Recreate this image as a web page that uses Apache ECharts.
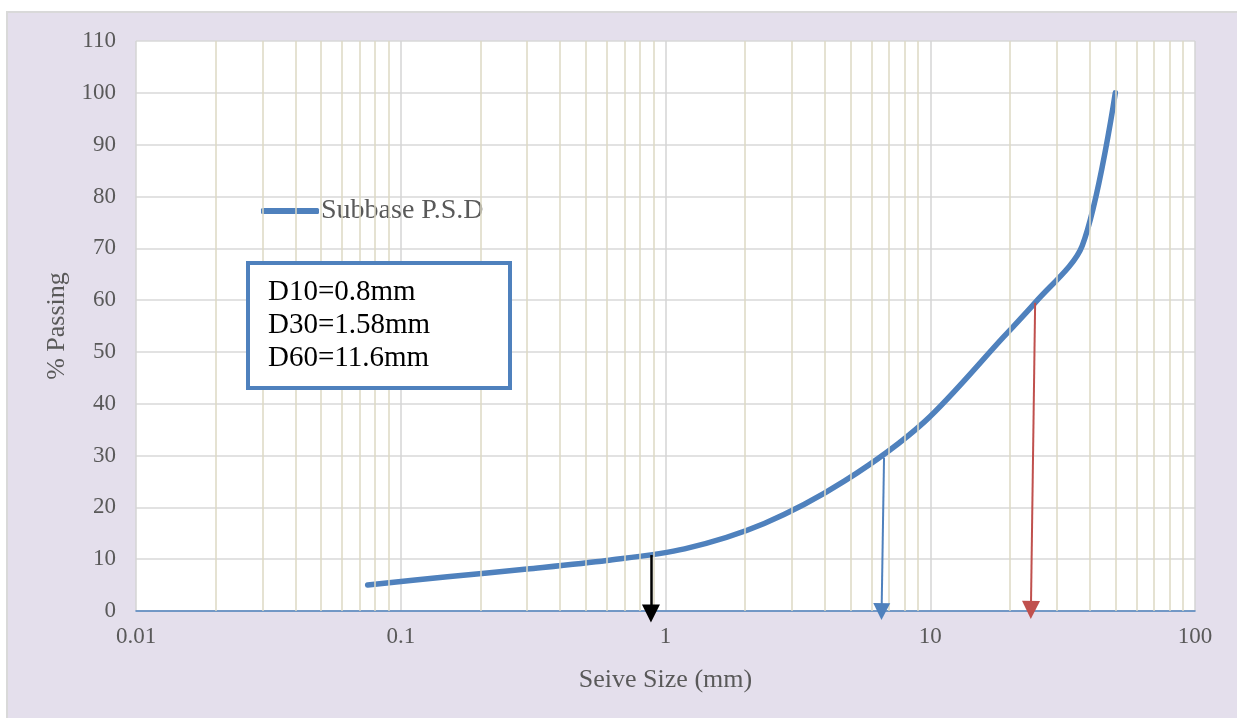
<!DOCTYPE html>
<html>
<head>
<meta charset="utf-8">
<script src="https://cdn.jsdelivr.net/npm/echarts@6/dist/echarts.min.js"></script>
<style>
html,body{margin:0;padding:0;background:#fff;}
#c{width:1237px;height:718px;}
</style>
</head>
<body>
<div id="c"></div>
<script>
// Data
var sieveSizes = [0.075, 0.15, 0.3, 0.6, 1.18, 2.36, 4.75, 9.5, 19, 25, 37.5, 50];
var percentPassing = [5.0, 6.6, 8.1, 9.75, 12.0, 16.9, 25.1, 36.5, 53, 59.6, 70.5, 100];
var seriesName = 'Subbase P.S.D';
var xTickLabels = ['0.01', '0.1', '1', '10', '100'];
var yTicks = [0, 10, 20, 30, 40, 50, 60, 70, 80, 90, 100, 110];
var boxLines = ['D10=0.8mm', 'D30=1.58mm', 'D60=11.6mm'];
// arrows: [x start, y start, x end, y end]
var arrowBlack = [0.881, 10.8, 0.881, -0.5];
var arrowBlue = [6.69, 29.6, 6.55, -0.1];
var arrowRed = [24.9, 59.5, 24.0, 0.2];
// minor log grid values (2..9 per decade)
var minorGrid = [];
[0.01, 0.1, 1, 10].forEach(function (d) {
  for (var m = 2; m <= 9; m++) minorGrid.push(+(d * m).toPrecision(3));
});

var chart = echarts.init(document.getElementById('c'), null, {renderer: 'canvas'});
var serif = '"Liberation Serif", "DejaVu Serif", serif';

function arrowSeries(a, color, w, size) {
  return {
    type: 'lines', coordinateSystem: 'cartesian2d', silent: true, clip: false, z: 5,
    symbol: ['none', 'triangle'], symbolSize: size,
    lineStyle: {color: color, width: w, opacity: 1},
    data: [{coords: [[a[0], a[1]], [a[2], a[3]]]}]
  };
}

var option = {
  backgroundColor: '#ffffff',
  animation: false,
  graphic: [
    {type: 'rect', z: -10, shape: {x: 7, y: 12, width: 1240, height: 720},
     style: {fill: '#e4dfec', stroke: '#d9d9d9', lineWidth: 2}},
    {type: 'rect', z: 100, shape: {x: 248, y: 263, width: 262, height: 125},
     style: {fill: '#ffffff', stroke: '#4f81bd', lineWidth: 4}},
    {type: 'text', z: 101, left: 268, top: 276,
     style: {text: boxLines.join('\n'), font: '29px ' + serif, fill: '#000000', lineHeight: 33}}
  ],
  grid: {left: 136, right: 42, top: 41, bottom: 107, show: true, backgroundColor: '#ffffff', borderWidth: 0},
  legend: {
    left: 256, top: 192,
    data: [{name: seriesName, icon: 'roundRect'}],
    itemWidth: 58, itemHeight: 6, itemGap: 0,
    textStyle: {fontFamily: serif, fontSize: 28, color: '#595959', padding: [0, 0, 0, -3]}
  },
  xAxis: {
    type: 'log', logBase: 10, min: 0.01, max: 100,
    name: 'Seive Size (mm)', nameLocation: 'middle', nameGap: 56,
    nameTextStyle: {fontFamily: serif, fontSize: 26, color: '#595959'},
    axisLine: {show: true, onZero: false, lineStyle: {color: '#4f81bd', width: 1.5}},
    axisTick: {show: false},
    axisLabel: {fontFamily: serif, fontSize: 23, color: '#595959', margin: 14,
      formatter: function (v) {
        var i = Math.round(Math.log10(v)) + 2;
        return xTickLabels[i] !== undefined ? xTickLabels[i] : '';
      }},
    splitLine: {show: true, lineStyle: {color: '#d4d4d4', width: 1.5}}
  },
  yAxis: {
    type: 'value', min: 0, max: 110, interval: 10,
    name: '% Passing', nameLocation: 'middle', nameGap: 58, nameRotate: 90,
    nameTextStyle: {fontFamily: serif, fontSize: 26, color: '#595959'},
    axisLine: {show: false}, axisTick: {show: false},
    axisLabel: {fontFamily: serif, fontSize: 23, color: '#595959', margin: 20},
    splitLine: {show: true, lineStyle: {color: '#d9d9d9', width: 1.5}}
  },
  series: [
    {
      type: 'line', name: '_minor', silent: true, data: [], z: 1,
      markLine: {
        silent: true, symbol: ['none', 'none'], label: {show: false},
        lineStyle: {color: '#ddd9c3', width: 1.5, type: 'solid'},
        data: minorGrid.map(function (v) { return {xAxis: v}; })
      }
    },
    {
      type: 'line', name: seriesName, z: 3,
      data: sieveSizes.map(function (x, i) { return [x, percentPassing[i]]; }),
      smooth: 0.3, showSymbol: false, symbol: 'none',
      lineStyle: {color: '#4f81bd', width: 5.5, cap: 'round', join: 'round'},
      itemStyle: {color: '#4f81bd'}
    },
    arrowSeries(arrowBlack, '#000000', 2.5, [18, 18]),
    arrowSeries(arrowBlue, '#4f81bd', 2, [18, 17]),
    arrowSeries(arrowRed, '#c0504d', 2, [18, 18])
  ]
};
chart.setOption(option);
</script>
</body>
</html>
